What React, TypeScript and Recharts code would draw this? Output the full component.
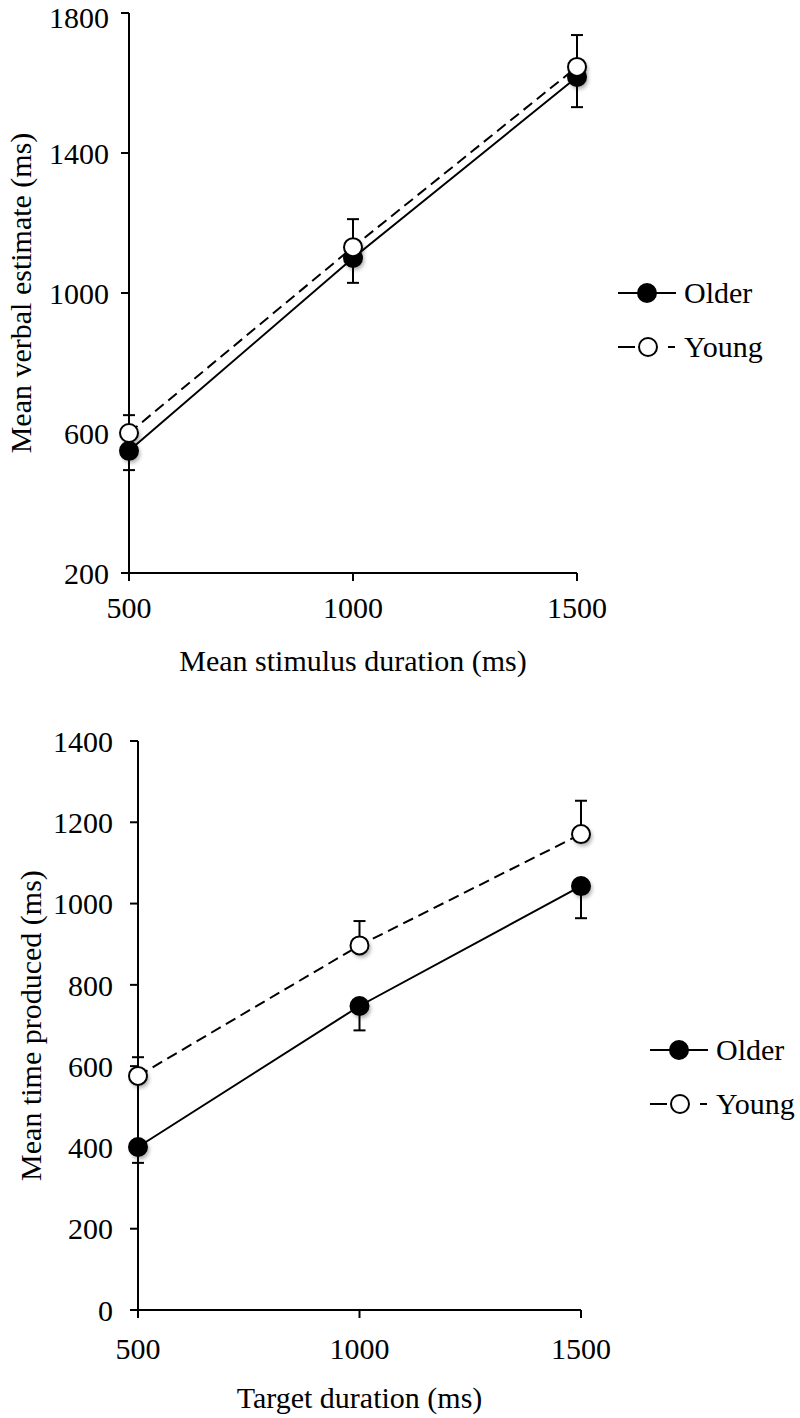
import { LineChart, Line, XAxis, YAxis, ErrorBar, Legend, Label } from "recharts";

const durations = [500, 1000, 1500];
const seriesNames = ["Older", "Young"];

// top panel: verbal estimation
const verbalOlder = [549, 1100, 1617];
const verbalOlderErr = [55, 71, 86];
const verbalYoung = [600, 1131, 1646];
const verbalYoungErr = [51, 80, 91];
const verbalTicks = [200, 600, 1000, 1400, 1800];

// bottom panel: production
const producedOlder = [401, 748, 1043];
const producedOlderErr = [39, 60, 79];
const producedYoung = [576, 897, 1171];
const producedYoungErr = [46, 60, 82];
const producedTicks = [0, 200, 400, 600, 800, 1000, 1200, 1400];

const FONT = "'Liberation Serif', 'Times New Roman', serif";
const FS = 30;

const buildRows = (older: number[], olderErr: number[], young: number[], youngErr: number[]) =>
  durations.map((d, i) => ({
    duration: d,
    older: older[i],
    olderErr: [olderErr[i], 0],
    young: young[i],
    youngErr: [0, youngErr[i]],
  }));

const verbalRows = buildRows(verbalOlder, verbalOlderErr, verbalYoung, verbalYoungErr);
const producedRows = buildRows(producedOlder, producedOlderErr, producedYoung, producedYoungErr);

const Marker = ({ cx, cy, filled }: any) => (
  <g>
    <defs>
      <filter id="dotShadow" x="-50%" y="-50%" width="200%" height="200%">
        <feGaussianBlur stdDeviation="2" />
      </filter>
    </defs>
    <circle cx={cx + 2} cy={cy + 3} r={9} fill="#000" opacity={0.35} filter="url(#dotShadow)" />
    <circle cx={cx} cy={cy} r={9} fill={filled ? "#000" : "#fff"} stroke="#000" strokeWidth={2} />
  </g>
);

const LegendRows = () => (
  <div style={{ fontFamily: FONT, fontSize: FS, color: "#000" }}>
    {seriesNames.map((name, i) => (
      <div key={name} style={{ display: "flex", alignItems: "center", height: 54 }}>
        <svg width={62} height={24}>
          {i === 0 ? (
            <>
              <line x1={0} y1={12} x2={58} y2={12} stroke="#000" strokeWidth={2} />
              <circle cx={29} cy={12} r={9} fill="#000" stroke="#000" strokeWidth={2} />
            </>
          ) : (
            <>
              <line x1={0} y1={12} x2={17} y2={12} stroke="#000" strokeWidth={2} />
              <line x1={50} y1={12} x2={57} y2={12} stroke="#000" strokeWidth={2} />
              <circle cx={30} cy={12} r={9} fill="#fff" stroke="#000" strokeWidth={2} />
            </>
          )}
        </svg>
        <span style={{ marginLeft: 4 }}>{name}</span>
      </div>
    ))}
  </div>
);

const yTitle = (text: string, x: number) => (props: any) => {
  const vb = props.viewBox || {};
  const cy = vb.y + vb.height / 2;
  return (
    <text
      x={x}
      y={cy}
      transform={`rotate(-90, ${x}, ${cy})`}
      textAnchor="middle"
      dominantBaseline="central"
      fontFamily={FONT}
      fontSize={FS}
      fill="#000"
    >
      {text}
    </text>
  );
};

const xTitle = (text: string, dy: number) => (props: any) => {
  const vb = props.viewBox || {};
  return (
    <text
      x={vb.x + vb.width / 2}
      y={vb.y + dy}
      textAnchor="middle"
      dominantBaseline="central"
      fontFamily={FONT}
      fontSize={FS}
      fill="#000"
    >
      {text}
    </text>
  );
};

const tickStyle = { fontFamily: FONT, fontSize: FS, fill: "#000" };
const axisLine = { stroke: "#000", strokeWidth: 2 };
const tickLine = { stroke: "#000", strokeWidth: 2 };

type PanelProps = {
  rows: any[];
  width: number;
  height: number;
  margin: any;
  yWidth: number;
  yDomain: number[];
  yTicks: number[];
  yTickMargin: number;
  xTickMargin: number;
  yLabel: string;
  yLabelX: number;
  xLabel: string;
  legendPos: { left: number; top: number };
};

const Panel = (p: PanelProps) => (
  <LineChart width={p.width} height={p.height} data={p.rows} margin={p.margin}>
    <XAxis
      dataKey="duration"
      type="number"
      domain={[500, 1500]}
      ticks={durations}
      height={100}
      tick={tickStyle}
      tickSize={8}
      tickMargin={p.xTickMargin}
      axisLine={axisLine}
      tickLine={tickLine}
    >
      <Label content={xTitle(p.xLabel, 87)} />
    </XAxis>
    <YAxis
      type="number"
      domain={p.yDomain}
      ticks={p.yTicks}
      width={p.yWidth}
      tick={tickStyle}
      tickSize={8}
      tickMargin={p.yTickMargin}
      axisLine={axisLine}
      tickLine={tickLine}
    >
      <Label content={yTitle(p.yLabel, p.yLabelX)} />
    </YAxis>
    <Legend
      layout="horizontal"
      verticalAlign="middle"
      align="center"
      content={() => <LegendRows />}
      wrapperStyle={{ position: "absolute", left: p.legendPos.left, top: p.legendPos.top, width: 180 }}
    />
    <Line
      dataKey="older"
      name="Older"
      stroke="#000"
      strokeWidth={2}
      isAnimationActive={false}
      dot={(d: any) => <Marker key={`o${d.index}`} cx={d.cx} cy={d.cy} filled />}
    >
      <ErrorBar dataKey="olderErr" direction="y" width={6} stroke="#000" strokeWidth={2} />
    </Line>
    <Line
      dataKey="young"
      name="Young"
      stroke="#000"
      strokeWidth={2}
      strokeDasharray="11 6"
      isAnimationActive={false}
      dot={(d: any) => <Marker key={`y${d.index}`} cx={d.cx} cy={d.cy} filled={false} />}
    >
      <ErrorBar dataKey="youngErr" direction="y" width={6} stroke="#000" strokeWidth={2} />
    </Line>
  </LineChart>
);

export default function App() {
  return (
    <div style={{ position: "absolute", left: 0, top: 0, width: 800, height: 1418, background: "#fff" }}>
      <div style={{ position: "absolute", left: 0, top: 0 }}>
        <Panel
          rows={verbalRows}
          width={800}
          height={700}
          margin={{ top: 13, right: 223, bottom: 27, left: 0 }}
          yWidth={129}
          yDomain={[200, 1800]}
          yTicks={verbalTicks}
          yTickMargin={12}
          xTickMargin={16}
          yLabel="Mean verbal estimate (ms)"
          yLabelX={20}
          xLabel="Mean stimulus duration (ms)"
          legendPos={{ left: 618, top: 266 }}
        />
      </div>
      <div style={{ position: "absolute", left: 0, top: 700 }}>
        <Panel
          rows={producedRows}
          width={800}
          height={718}
          margin={{ top: 41, right: 219, bottom: 8, left: 0 }}
          yWidth={138}
          yDomain={[0, 1400]}
          yTicks={producedTicks}
          yTickMargin={17}
          xTickMargin={20}
          yLabel="Mean time produced (ms)"
          yLabelX={30}
          xLabel="Target duration (ms)"
          legendPos={{ left: 650, top: 323 }}
        />
      </div>
    </div>
  );
}
